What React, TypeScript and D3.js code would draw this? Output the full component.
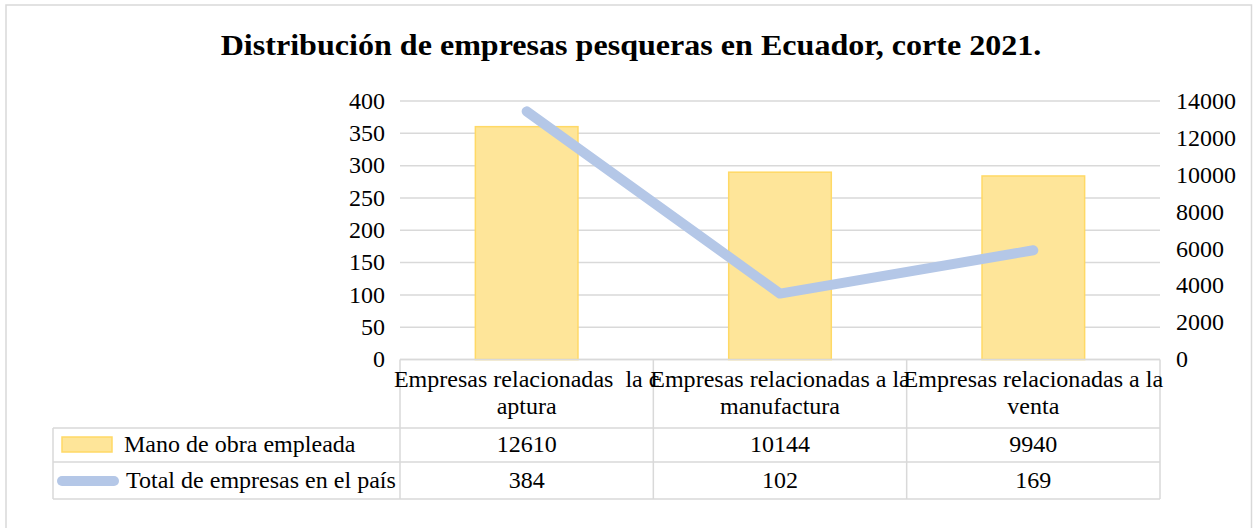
import React from "react";
import * as d3 from "d3";

const categories = [
  "Empresas relacionadas a la captura",
  "Empresas relacionadas a la manufactura",
  "Empresas relacionadas a la venta",
];
const categoryLines = [
  ["Empresas relacionadas  la c", "aptura"],
  ["Empresas relacionadas a la", "manufactura"],
  ["Empresas relacionadas a la", "venta"],
];
const manoObra = [12610, 10144, 9940];
const totalEmpresas = [384, 102, 169];
const leftTicks = [0, 50, 100, 150, 200, 250, 300, 350, 400];
const rightTicks = [0, 2000, 4000, 6000, 8000, 10000, 12000, 14000];
const seriesNames = ["Mano de obra empleada", "Total de empresas en el país"];
const title = "Distribución de empresas pesqueras en Ecuador, corte 2021.";

const W = 1253;
const H = 528;
const FONT = "'Liberation Serif', 'Times New Roman', serif";
const GRID = "#d9d9d9";
const BAR_FILL = "#fee599";
const BAR_STROKE = "#ffd966";
const LINE = "#b4c7e7";

function T(props: {
  x: number;
  y: number;
  anchor?: "start" | "middle" | "end";
  size?: number;
  bold?: boolean;
  dy?: string;
  sx?: number;
  children: React.ReactNode;
}) {
  const { x, y, anchor = "start", size = 23, bold = false, dy, sx = 1.045, children } = props;
  return (
    <text
      transform={`translate(${x},${y}) scale(${sx},1)`}
      dy={dy}
      textAnchor={anchor}
      fontFamily={FONT}
      fontSize={size}
      fontWeight={bold ? "bold" : "normal"}
      fill="#000"
      style={{ whiteSpace: "pre" }}
    >
      {children}
    </text>
  );
}

export default function App() {
  const plotL = 400, plotR = 1160, plotT = 101, plotB = 359.5;
  const x = d3.scaleBand<string>().domain(categories).range([plotL, plotR]).paddingInner(0).paddingOuter(0);
  const yL = d3.scaleLinear().domain([0, 400]).range([plotB, plotT]);
  const yR = d3.scaleLinear().domain([0, 14000]).range([plotB, plotT]);
  const barW = x.bandwidth() * 0.405;
  const cx = (c: string) => (x(c) as number) + x.bandwidth() / 2;

  const line = d3.line<number>()
    .x((_, i) => cx(categories[i]))
    .y((d) => yL(d));

  const tblTop = plotB;
  const hdrB = 428;
  const r2B = 462;
  const r3B = 499;
  const tblL = 53;

  return (
    <svg width={W} height={H} style={{ position: "absolute", left: 0, top: 0, background: "#fff" }}>
      <rect x={6} y={5} width={1245.5} height={530} fill="#fff" stroke={GRID} strokeWidth={1.5} />
      <T x={631} y={55} anchor="middle" size={30} bold sx={1.07}>{title}</T>
      {leftTicks.map((t) => (
        <line key={"g" + t} x1={plotL} x2={plotR} y1={yL(t)} y2={yL(t)} stroke={GRID} strokeWidth={1.5} />
      ))}
      {leftTicks.map((t) => (
        <T key={"l" + t} x={385} y={yL(t)} dy="0.34em" anchor="end">{t}</T>
      ))}
      {rightTicks.map((t) => (
        <T key={"r" + t} x={1176} y={yR(t)} dy="0.34em" anchor="start">{t}</T>
      ))}
      {categories.map((c, i) => (
        <rect
          key={"b" + c}
          x={cx(c) - barW / 2}
          y={yR(manoObra[i])}
          width={barW}
          height={plotB - yR(manoObra[i])}
          fill={BAR_FILL}
          stroke={BAR_STROKE}
          strokeWidth={1.5}
        />
      ))}
      <path d={line(totalEmpresas) || ""} fill="none" stroke={LINE} strokeWidth={10} strokeLinecap="round" strokeLinejoin="round" />
      <g stroke={GRID} strokeWidth={1.5}>
        <line x1={plotL} x2={plotR} y1={tblTop} y2={tblTop} />
        <line x1={tblL} x2={plotR} y1={hdrB} y2={hdrB} />
        <line x1={tblL} x2={plotR} y1={r2B} y2={r2B} />
        <line x1={tblL} x2={plotR} y1={r3B} y2={r3B} />
        <line x1={tblL} x2={tblL} y1={hdrB} y2={r3B} />
        {[...categories.map((c) => x(c) as number), plotR].map((v, i) => (
          <line key={"v" + i} x1={v} x2={v} y1={tblTop} y2={r3B} />
        ))}
      </g>
      {categories.map((c, i) => (
        <g key={"h" + c}>
          <T x={cx(c)} y={387} anchor="middle">{categoryLines[i][0]}</T>
          <T x={cx(c)} y={414} anchor="middle">{categoryLines[i][1]}</T>
        </g>
      ))}
      <rect x={62} y={437} width={50} height={15} fill={BAR_FILL} stroke={BAR_STROKE} strokeWidth={1.5} />
      <line x1={62} x2={114} y1={481} y2={481} stroke={LINE} strokeWidth={10} strokeLinecap="round" />
      <T x={124} y={452}>{seriesNames[0]}</T>
      <T x={126} y={488}>{seriesNames[1]}</T>
      {categories.map((c, i) => (
        <g key={"d" + c}>
          <T x={cx(c)} y={452} anchor="middle">{manoObra[i]}</T>
          <T x={cx(c)} y={488} anchor="middle">{totalEmpresas[i]}</T>
        </g>
      ))}
    </svg>
  );
}
